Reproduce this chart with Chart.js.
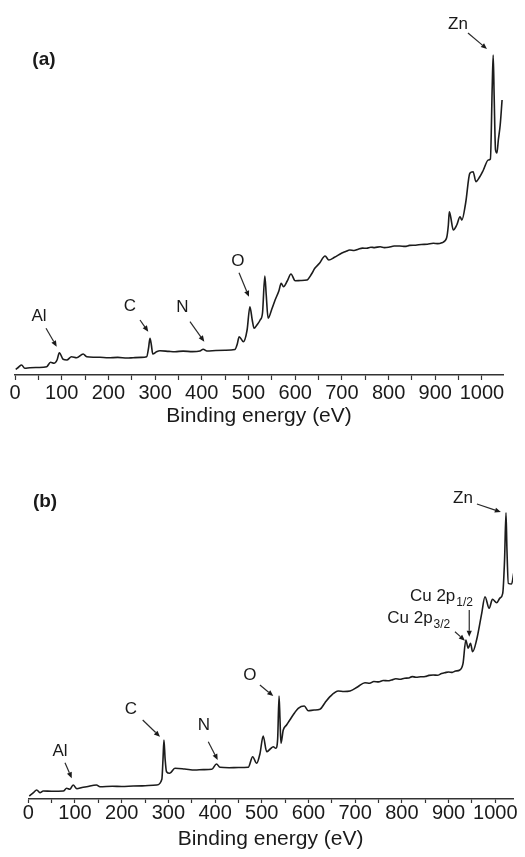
<!DOCTYPE html>
<html><head><meta charset="utf-8">
<script src="https://cdn.jsdelivr.net/npm/chart.js@4"></script>
<style>
html,body{margin:0;padding:0;background:#fff;width:525px;height:857px;overflow:hidden}
canvas{position:absolute;left:0}
#ca{top:0}
#cb{top:440px}
</style></head><body>
<canvas id="ca" width="525" height="440"></canvas>
<canvas id="cb" width="525" height="417"></canvas>
<script>
// ---------- data ----------
const majorTicks = [0,100,200,300,400,500,600,700,800,900,1000];
const minorTicks = [50,150,250,350,450,550,650,750,850,950];
const axisTitle = 'Binding energy (eV)';

// panel (a)
const energyA = [1.5,8,14,21,32,50,68,76,83.5,90,95,103,111,121,132,146,153.5,170,182,200,220,240,253,270,282,286,289,292,295,303,310.5,330,342.6,360,380,396,403,411,430,450,471,476,480,489,497,503,508,512,518,525,530,535,538,542,550,557,565,570,575,583,591,600,612,625,635,642,652,664,672,684,700,708,717,726,735,744,753,762,770,782,791,800,812,824,835,845,858,870,883,896,905,914,924,928,930,933,938.5,946,953,957,965,974,981,987,995,1003,1013.5,1018,1022,1024,1026,1029,1032,1035,1039,1043];
const intensityA = [5.7,8,10,6.7,7.3,7.5,8.3,12.7,11.7,15,22.3,15.7,15,18.3,17.3,21,18.3,17.8,17.7,17.2,17.6,17.0,17.3,17.6,18.3,27,36.7,30,21,23.3,24.3,23.6,23.3,23.9,23.4,24,25.7,24,24.5,24.8,25.5,31,38.3,33.3,45,68.3,55,46.7,50,55,62,99,80,56.7,66,75,84,91.7,88.3,94,101,94.3,94.5,95,101,106.7,111.7,119,115,117.7,122,123.5,125,124.5,125.8,126.9,126.7,127.8,127.4,128.3,127.4,127.8,129,129,128.6,129.6,129.8,130.5,130.8,131.7,131.4,132.3,136.7,150,163.3,158,145,150,158.3,155,172,201.7,203.3,193.3,198,205,215,216,290,320,280,225,222,235,250,275];

// panel (b)
const energyB = [2,11,18,25,32,50,75,82,89,96,104,115,125,146,153.5,180,200,225,250,275,286,288.5,290.5,293,296,303,314,335,357,375,393,403,410.5,430,450,471,480.5,489,496,503,510.5,518,524.5,530,534,537,539,541,546,553,560,570,578,591,599.5,612,624.6,635,646,664,676,689,705,721,731,740,750,760,770,778,787,796,806,815,822,830,840,850,858,867,876,885,893,900,908,915,924,931,937,942,947,951.5,960,971,978,987,994,1003,1010,1016,1020,1023,1025,1028,1035,1040];
const intensityB = [3,6.3,9,6.3,8,7.8,8,10.7,9.7,14,10.3,11.5,12.3,14,12.3,12.8,12.5,13,13.2,14,19.7,40,59,40,27.3,25.7,30.7,30,29,29.4,29.7,35,31.7,31.3,31.5,31.7,42.3,35.7,45,63,47.3,50,52.3,50.7,60,103,80,55.7,69,74,79,86,90.7,93,88.3,89,89.7,96,102.3,108,107.5,108,112,116.3,115.8,117.5,117.1,118.5,118.2,119,120.3,119.7,120.8,121,122.4,121.8,122.2,122.5,123.6,124,123.7,125.5,126.4,127,126.6,128,129,135.7,159,150.7,155.7,147.3,159,185.7,202.3,190.7,199.7,196.3,201,205.7,240,286.3,250,215.7,215,227.3];

// annotations (data coordinates: energy, intensity)
const labelTextA = ['(a)','Al','C','N','O','Zn'];
const labelEA = [62,51.4,246,358.7,477.5,948.6];
const labelIA = [315,59,69,67.5,114,351];
const arrowsA = [[66.4,46.7,89.3,28.3],[267.7,55,285.4,43.3],[374.7,53.3,405.4,33.3],[479.7,102.3,501,78.3],[970,342,1010.7,326]];

const labelTextB = ['(b)','Al','C','N','O','Zn'];
const labelEB = [35.8,67.9,219.9,376,474.7,930.8];
const labelIB = [297,48,90,74,124,301];
const subLabelMainB = ['Cu 2p','Cu 2p'];
const subLabelSubB = ['1/2','3/2'];
const subLabelEB = [817.3,768.7];
const subLabelIB = [198,176];
const arrowsB = [[78.6,36.3,93,20.7],[245,79,282,62.3],[385.4,57.3,405.6,39],[496,114,524.6,103],[960.8,295,1012,287],[944.3,189,944.3,162.3],[913.7,167.3,935,158.3]];

// ---------- drawing ----------
const FONT = '"Liberation Sans", Arial, Helvetica, sans-serif';
const INK = '#1a1a1a';

const annotPlugin = {
  id: 'annot',
  afterDatasetsDraw(chart, args, o) {
    const ctx = chart.ctx, xs = chart.scales.x, ys = chart.scales.y;
    ctx.save();
    ctx.fillStyle = INK; ctx.strokeStyle = '#2a2a2a';
    ctx.textAlign = 'center'; ctx.textBaseline = 'middle';
    o.text.forEach((t, i) => {
      const bold = t.startsWith('(');
      ctx.font = (bold ? 'bold 19px ' : '17px ') + FONT;
      ctx.fillText(t, xs.getPixelForValue(o.e[i]), ys.getPixelForValue(o.i[i]));
    });
    (o.subMain || []).forEach((t, i) => {
      const x = xs.getPixelForValue(o.subE[i]), y = ys.getPixelForValue(o.subI[i]);
      ctx.textAlign = 'left'; ctx.textBaseline = 'alphabetic';
      ctx.font = '17px ' + FONT;
      ctx.fillText(t, x, y);
      const w = ctx.measureText(t).width;
      ctx.font = '12px ' + FONT;
      ctx.fillText(o.subSub[i], x + w + 1, y + 5);
    });
    ctx.lineWidth = 1.2;
    o.arrows.forEach(a => {
      const x1 = xs.getPixelForValue(a[0]), y1 = ys.getPixelForValue(a[1]);
      const x2 = xs.getPixelForValue(a[2]), y2 = ys.getPixelForValue(a[3]);
      const ang = Math.atan2(y2 - y1, x2 - x1), L = 6, W = 2.6;
      ctx.beginPath(); ctx.moveTo(x1, y1);
      ctx.lineTo(x2 - L * Math.cos(ang), y2 - L * Math.sin(ang)); ctx.stroke();
      ctx.beginPath();
      ctx.moveTo(x2, y2);
      ctx.lineTo(x2 - L * Math.cos(ang) + W * Math.sin(ang), y2 - L * Math.sin(ang) - W * Math.cos(ang));
      ctx.lineTo(x2 - L * Math.cos(ang) - W * Math.sin(ang), y2 - L * Math.sin(ang) + W * Math.cos(ang));
      ctx.closePath(); ctx.fill();
    });
    ctx.restore();
  }
};

function panel(id, energy, inten, cfg) {
  const allTicks = majorTicks.concat(minorTicks).sort((a, b) => a - b);
  return new Chart(document.getElementById(id), {
    type: 'line',
    data: { datasets: [{
      data: energy.map((e, k) => ({ x: e, y: inten[k] })),
      borderColor: '#1c1c1c', borderWidth: 1.6, pointRadius: 0, fill: false,
      cubicInterpolationMode: 'monotone', tension: 0.4
    }] },
    options: {
      responsive: false, animation: false,
      layout: { padding: { left: cfg.left, right: cfg.right, top: cfg.top, bottom: 0 } },
      plugins: { legend: { display: false }, tooltip: { enabled: false }, annot: cfg.annot },
      scales: {
        x: {
          type: 'linear', min: 0, max: cfg.xMax,
          afterBuildTicks: s => { s.ticks = allTicks.map(v => ({ value: v })); },
          afterFit: s => { s.height = cfg.scaleH; },
          grid: { display: true, drawOnChartArea: false, drawTicks: true, tickLength: cfg.tl, tickColor: '#333', tickWidth: 1.2 },
          border: { display: true, color: '#333', width: 1.5 },
          ticks: { padding: cfg.tp, color: INK, autoSkip: false, maxRotation: 0,
            font: { family: FONT, size: 20, lineHeight: 1 },
            callback: v => majorTicks.includes(v) ? String(v) : '' },
          title: { display: true, text: axisTitle, color: INK,
            font: { family: FONT, size: 21, lineHeight: 1.2 }, padding: { top: 0, bottom: cfg.titlePB } }
        },
        y: { display: false, min: 0, max: cfg.yMax }
      }
    },
    plugins: [annotPlugin]
  });
}

panel('ca', energyA, intensityA, {
  left: 15, right: 22, top: 20, xMax: 1045, yMax: 355, scaleH: 65, tl: 5, tp: 3, titlePB: 11,
  annot: { text: labelTextA, e: labelEA, i: labelIA, arrows: arrowsA }
});
panel('cb', energyB, intensityB, {
  left: 28.3, right: 12, top: 20, xMax: 1038, yMax: 339, scaleH: 58, tl: 4, tp: 0.5, titlePB: 5,
  annot: { text: labelTextB, e: labelEB, i: labelIB, arrows: arrowsB,
    subMain: subLabelMainB, subSub: subLabelSubB, subE: subLabelEB, subI: subLabelIB }
});
</script>
</body></html>
